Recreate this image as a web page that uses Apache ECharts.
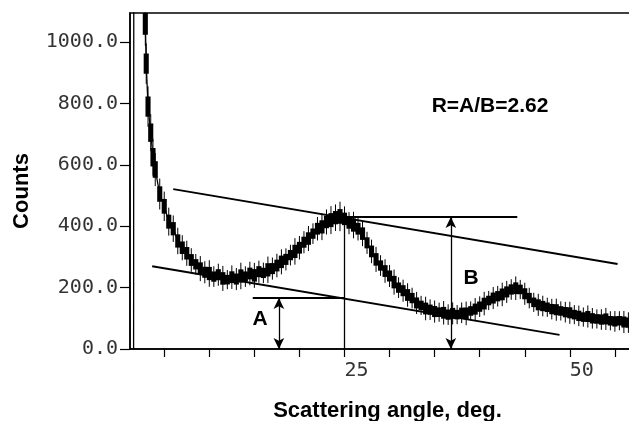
<!DOCTYPE html>
<html>
<head>
<meta charset="utf-8">
<style>
  html, body { margin: 0; padding: 0; background: #fff; }
  #chart { width: 629px; height: 421px; }
</style>
<script src="https://cdn.jsdelivr.net/npm/echarts@6/dist/echarts.min.js"></script>
</head>
<body>
<div id="chart"></div>
<script>
// channel positions (deg), counts and error bar half-length
var angle = [1.6, 1.65, 2.6, 2.9, 3.0, 3.2, 3.5, 3.75,
  4.0, 4.5, 5.0, 5.5, 6.0, 6.5, 7.0, 7.5,
  8.0, 8.5, 9.0, 9.5, 10.0, 10.5, 11.0, 11.5, 12.0, 12.5,
  13.0, 13.5, 14.0, 14.5, 15.0, 15.5, 16.0, 16.5, 17.0, 17.5,
  18.0, 18.5, 19.0, 19.5, 20.0, 20.5, 21.0, 21.5, 22.0, 22.5,
  23.0, 23.5, 24.0, 24.5, 25.0, 25.5, 26.0, 26.5, 27.0, 27.5,
  28.0, 28.5, 29.0, 29.5, 30.0, 30.5, 31.0, 31.5, 32.0, 32.5,
  33.0, 33.5, 34.0, 34.5, 35.0, 35.5, 36.0, 36.5, 37.0, 37.5,
  38.0, 38.5, 39.0, 39.5, 40.0, 40.5, 41.0, 41.5, 42.0, 42.5,
  43.0, 43.5, 44.0, 44.5, 45.0, 45.5, 46.0, 46.5, 47.0, 47.5,
  48.0, 48.5, 49.0, 49.5, 50.0, 50.5, 51.0, 51.5, 52.0, 52.5,
  53.0, 53.5, 54.0, 54.5, 55.0, 55.5, 56.0, 56.5, 57.0];

var counts = [0, 3000, 1500, 1060, 930, 790, 705, 625,
  585, 505, 465, 415, 392, 352, 330, 312,
  290, 276, 262, 250, 246, 236, 242, 230, 226, 234,
  228, 238, 236, 246, 240, 252, 248, 258, 262, 272,
  284, 292, 306, 318, 330, 348, 360, 376, 392, 398,
  414, 420, 428, 432, 424, 410, 404, 392, 376, 346,
  318, 292, 272, 254, 238, 218, 200, 190, 176, 166,
  150, 142, 132, 128, 122, 120, 118, 112, 116, 112,
  118, 116, 124, 130, 138, 148, 158, 166, 172, 178,
  186, 194, 198, 194, 180, 166, 152, 144, 140, 136,
  130, 128, 124, 120, 118, 112, 108, 104, 106, 100,
  98, 96, 98, 92, 90, 92, 88, 86, 88];

var errs = [0, 0, 0, 60, 55, 55, 50, 50,
  45, 42, 40, 38, 36, 36, 34, 34,
  32, 28, 34, 30, 36, 28, 30, 34, 26, 32,
  30, 36, 28, 32, 34, 30, 28, 36, 30, 32,
  34, 30, 28, 36, 32, 30, 34, 28, 32, 36,
  34, 38, 36, 40, 34, 30, 36, 32, 34, 30,
  32, 34, 28, 32, 30, 34, 28, 30, 32, 28,
  30, 26, 32, 28, 30, 26, 32, 28, 30, 26,
  28, 32, 26, 30, 28, 32, 26, 30, 28, 32,
  30, 28, 32, 26, 30, 28, 26, 30, 28, 26,
  28, 30, 26, 28, 30, 26, 28, 26, 30, 28,
  26, 28, 30, 26, 28, 26, 30, 28, 26];

var xTicks = [5, 10, 15, 20, 25, 30, 35, 40, 45, 50, 55];
var xLabels = [25, 50];
var yLabels = [0, 200, 400, 600, 800, 1000];

// construction lines drawn on the plot (deg, counts)
var tangentUpper = [[6.0, 521], [55.3, 277]];
var tangentLower = [[3.66, 270], [48.86, 46]];
var peakLevel = [[24.87, 430], [44.17, 430]];
var baseLevel = [[14.82, 166], [25.0, 166]];
var peakDrop = [[25.0, 440], [25.0, 0]];
var arrowA = [[17.72, 166], [17.72, 0]];
var arrowB = [[36.8, 430], [36.8, 0]];

var chart = echarts.init(document.getElementById('chart'));

var points = angle.map(function (a, i) { return [a, counts[i], errs[i]]; });

function renderBar(params, api) {
  var u = api.value(0), c = api.value(1), e = api.value(2);
  if (!e) return;
  var cs = params.coordSys;
  var w = api.size([0.5, 0])[0] + 0.6;
  var p1 = api.coord([u, c + e * 0.6]);
  var p2 = api.coord([u, c - e * 0.6]);
  var w1 = api.coord([u, c + e * 1.2]);
  var w2 = api.coord([u, c - e * 1.2]);
  var kids = [];
  var band = echarts.graphic.clipRectByRect({
    x: p1[0] - w / 2, y: p1[1], width: w, height: p2[1] - p1[1]
  }, cs);
  if (band) kids.push({ type: 'rect', shape: band, style: { fill: '#000' } });
  var y1 = Math.max(w1[1], cs.y), y2 = Math.min(w2[1], cs.y + cs.height);
  if (y2 > y1) {
    kids.push({ type: 'line', shape: { x1: w1[0], y1: y1, x2: w1[0], y2: y2 },
      style: { stroke: '#000', lineWidth: 1 } });
  }
  return { type: 'group', children: kids };
}

function seg(pts, arrows, width) {
  var s = arrows ? 'arrow' : 'none';
  return [
    { coord: pts[0], symbol: s, symbolSize: [8, 11], lineStyle: { width: width } },
    { coord: pts[1], symbol: s, symbolSize: [8, 11] }
  ];
}

var txt = { fontFamily: 'Liberation Sans, Arial, sans-serif', fontWeight: 'bold', color: '#000' };
var boldFont = 'bold 21px "Liberation Sans", Arial, sans-serif';

chart.setOption({
  animation: false,
  grid: { left: 130, top: 13, right: -3, bottom: 72, outerBoundsMode: 'none',
    show: true, borderColor: '#000', borderWidth: 1.5 },
  xAxis: {
    type: 'value', min: 1.2, max: 56.9,
    name: 'Scattering angle, deg.', nameLocation: 'middle', nameGap: 51,
    nameTextStyle: Object.assign({ fontSize: 22, padding: [0, 0, 0, 13] }, txt),
    axisLine: { lineStyle: { color: '#000', width: 1.5 } },
    axisTick: { customValues: xTicks, length: 8, lineStyle: { color: '#000', width: 1.2 } },
    axisLabel: { customValues: xLabels, align: 'left', margin: 12, fontFamily: 'DejaVu Sans Mono', fontSize: 20, color: '#333' },
    splitLine: { show: false }
  },
  yAxis: {
    type: 'value', min: 0, max: 1095,
    axisLine: { show: true, lineStyle: { color: '#000', width: 1.5 } },
    axisTick: { show: true, customValues: yLabels, length: 10, lineStyle: { color: '#000', width: 1.2 } },
    axisLabel: { customValues: yLabels, margin: 12, fontFamily: 'DejaVu Sans Mono', fontSize: 20, color: '#333',
      formatter: function (v) { return Number(v).toFixed(1); } },
    splitLine: { show: false }
  },
  graphic: [
    { type: 'text', x: 22, y: 191, rotation: Math.PI / 2,
      style: { text: 'Counts', align: 'center', verticalAlign: 'middle', fill: '#000',
        font: 'bold 22px "Liberation Sans", Arial, sans-serif' } },
    { type: 'text', x: 490, y: 106,
      style: { text: 'R=A/B=2.62', align: 'center', verticalAlign: 'middle', fill: '#000', font: boldFont } },
    { type: 'text', x: 260, y: 319,
      style: { text: 'A', align: 'center', verticalAlign: 'middle', fill: '#000', font: boldFont } },
    { type: 'text', x: 471, y: 278,
      style: { text: 'B', align: 'center', verticalAlign: 'middle', fill: '#000', font: boldFont } }
  ],
  series: [
    {
      type: 'line',
      data: angle.map(function (a, i) { return [a, counts[i]]; }),
      showSymbol: false,
      clip: true,
      lineStyle: { color: '#000', width: 1.3 },
      markLine: {
        silent: true,
        animation: false,
        label: { show: false },
        lineStyle: { color: '#000', type: 'solid' },
        itemStyle: { color: '#000' },
        data: [
          seg(tangentUpper, false, 2),
          seg(tangentLower, false, 2),
          seg(peakLevel, false, 1.8),
          seg(baseLevel, false, 1.8),
          seg(peakDrop, false, 1.3),
          seg(arrowA, true, 1.3),
          seg(arrowB, true, 1.3)
        ]
      }
    },
    {
      type: 'custom',
      data: points,
      renderItem: renderBar,
      encode: { x: 0, y: 1 }
    }
  ]
});
</script>
</body>
</html>
